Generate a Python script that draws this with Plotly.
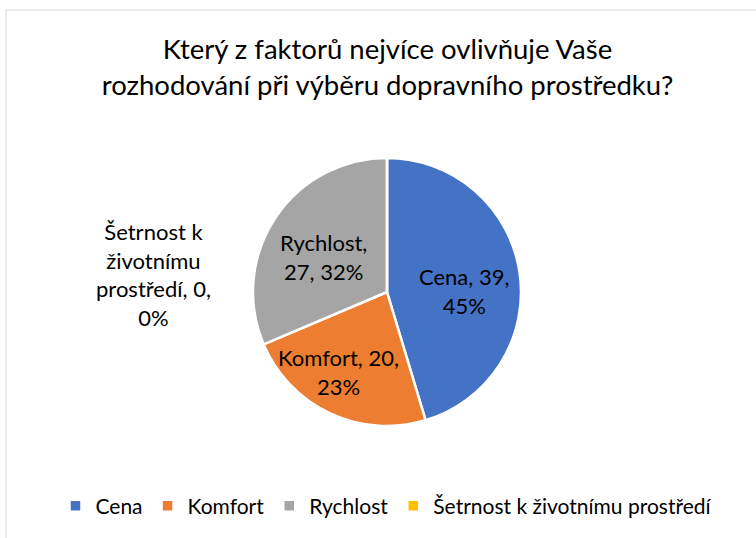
import math
import plotly.graph_objects as go

categories = ["Cena", "Komfort", "Rychlost", "Šetrnost k životnímu prostředí"]
values = [39, 20, 27, 0]
percent_labels = ["45%", "23%", "32%", "0%"]
colors = ["#4472C4", "#ED7D31", "#A5A5A5", "#FFC000"]
title_text = "Který z faktorů nejvíce ovlivňuje Vaše<br>rozhodování při výběru dopravního prostředku?"

# layout constants (pixels)
W, H = 756, 538
cx, cy, r = 387, 292, 134
label_radius_frac = [0.55, 0.70, 0.54, None]
label_nudge = [(4, 10), (-9, -5), (-3, 5), (0, 0)]
font = "Lato, Open Sans, sans-serif"

fig = go.Figure(go.Pie(
    labels=categories,
    values=values,
    textinfo="none",
    sort=False,
    direction="clockwise",
    rotation=0,
    marker=dict(colors=colors, line=dict(color="white", width=2.5)),
    domain=dict(x=[(cx - r) / W, (cx + r) / W], y=[1 - (cy + r) / H, 1 - (cy - r) / H]),
    showlegend=True,
    hoverinfo="label+value+percent",
))

# data labels placed at each slice's mid-angle
total = sum(values)
cum = 0
for cat, v, p, f, (ndx, ndy) in zip(categories, values, percent_labels, label_radius_frac, label_nudge):
    mid = (cum + v / 2) / total * 2 * math.pi
    cum += v
    if v == 0:
        continue
    x = cx + f * r * math.sin(mid) + ndx
    y = cy - f * r * math.cos(mid) + ndy
    txt = f"{cat},<br>{v}, {p}" if cat == "Rychlost" else f"{cat}, {v},<br>{p}"
    fig.add_annotation(x=x / W, y=1 - y / H, xref="paper", yref="paper", text=txt,
                       showarrow=False, font=dict(family=font, size=22, color="#000000"),
                       align="center", xanchor="center", yanchor="middle")

# label for the zero-valued slice (outside, left)
zi = values.index(0)
fig.add_annotation(
    x=153 / W, y=1 - 274 / H, xref="paper", yref="paper",
    text=f"Šetrnost k<br>životnímu<br>prostředí, {values[zi]},<br>{percent_labels[zi]}",
    showarrow=False, font=dict(family=font, size=22, color="#000000"),
    align="center", xanchor="center", yanchor="middle",
)

fig.update_layout(
    width=W, height=H,
    margin=dict(l=0, r=0, t=0, b=0),
    paper_bgcolor="white",
    title=dict(text=title_text, x=387.5 / W, xanchor="center", y=1 - 59 / H, yanchor="middle",
               font=dict(family=font, size=27.5, color="#000000")),
    legend=dict(orientation="h", x=386 / W, xanchor="center", y=1 - 506 / H, yanchor="middle",
                font=dict(family=font, size=21, color="#000000"), traceorder="normal",
                itemwidth=30),
    shapes=[dict(type="rect", xref="paper", yref="paper", x0=6 / W, x1=1.02, y0=-0.02, y1=1 - 10 / H,
                 line=dict(color="#D9D9D9", width=1), fillcolor="rgba(0,0,0,0)")],
)

fig.write_html("out.html", config={"displayModeBar": False},
               post_script="document.body.style.margin='0';")
